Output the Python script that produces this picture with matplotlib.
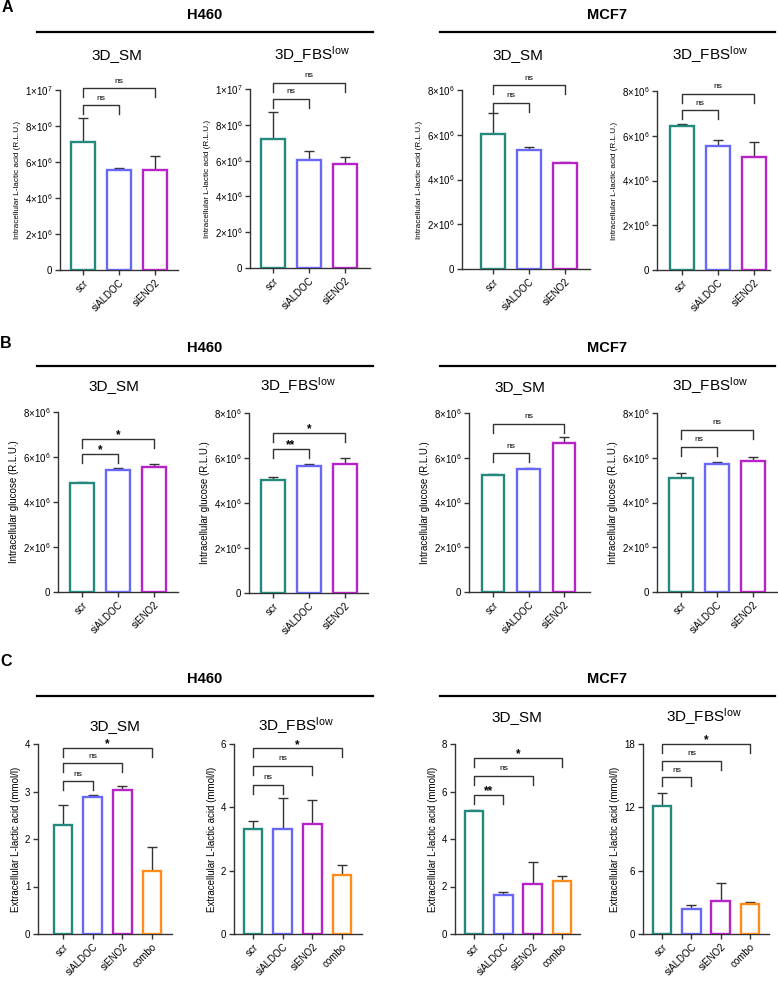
import matplotlib
matplotlib.use("Agg")
import matplotlib.pyplot as plt
from matplotlib.lines import Line2D
import matplotlib.transforms as mtransforms

plt.rcParams['font.family'] = ['Liberation Sans', 'DejaVu Sans']
plt.rcParams['mathtext.fontset'] = 'custom'
plt.rcParams['mathtext.rm'] = 'Liberation Sans'
plt.rcParams['mathtext.it'] = 'Liberation Sans:italic'
plt.rcParams['mathtext.bf'] = 'Liberation Sans:bold'

W, H = 778, 981

# ---------------- data ----------------
groups3 = ["scr", "siALDOC", "siENO2"]
groups4 = ["scr", "siALDOC", "siENO2", "combo"]
colors = ["#23897d", "#6868f8", "#b722c9", "#ff8c1a"]

# Panel A: intracellular L-lactic acid (R.L.U.)
A_h460_sm_mean = [7.1e6, 5.55e6, 5.55e6]
A_h460_sm_err = [1.35e6, 0.13e6, 0.77e6]
A_h460_fbs_mean = [7.21e6, 6.05e6, 5.83e6]
A_h460_fbs_err = [1.49e6, 0.47e6, 0.37e6]
A_mcf7_sm_mean = [6.05e6, 5.30e6, 4.73e6]
A_mcf7_sm_err = [0.91e6, 0.17e6, 0.04e6]
A_mcf7_fbs_mean = [6.44e6, 5.53e6, 5.06e6]
A_mcf7_fbs_err = [0.10e6, 0.27e6, 0.66e6]

# Panel B: intracellular glucose (R.L.U.)
B_h460_sm_mean = [4.83e6, 5.44e6, 5.54e6]
B_h460_sm_err = [0.04e6, 0.06e6, 0.13e6]
B_h460_fbs_mean = [5.02e6, 5.63e6, 5.72e6]
B_h460_fbs_err = [0.14e6, 0.10e6, 0.27e6]
B_mcf7_sm_mean = [5.22e6, 5.50e6, 6.66e6]
B_mcf7_sm_err = [0.06e6, 0.06e6, 0.27e6]
B_mcf7_fbs_mean = [5.10e6, 5.73e6, 5.85e6]
B_mcf7_fbs_err = [0.20e6, 0.09e6, 0.19e6]

# Panel C: extracellular L-lactic acid (mmol/l)
C_h460_sm_mean = [2.29, 2.89, 3.03, 1.33]
C_h460_sm_err = [0.43, 0.04, 0.09, 0.51]
C_h460_fbs_mean = [3.32, 3.33, 3.47, 1.87]
C_h460_fbs_err = [0.26, 0.95, 0.76, 0.31]
C_mcf7_sm_mean = [5.19, 1.63, 2.11, 2.25]
C_mcf7_sm_err = [0.02, 0.14, 0.94, 0.19]
C_mcf7_fbs_mean = [12.08, 2.37, 3.16, 2.85]
C_mcf7_fbs_err = [1.32, 0.35, 1.64, 0.22]

sig_A_h460_sm = ["ns", "ns"]
sig_A_h460_fbs = ["ns", "ns"]
sig_A_mcf7_sm = ["ns", "ns"]
sig_A_mcf7_fbs = ["ns", "ns"]
sig_B_h460_sm = ["*", "*"]
sig_B_h460_fbs = ["**", "*"]
sig_B_mcf7_sm = ["ns", "ns"]
sig_B_mcf7_fbs = ["ns", "ns"]
sig_C_h460_sm = ["ns", "ns", "*"]
sig_C_h460_fbs = ["ns", "ns", "*"]
sig_C_mcf7_sm = ["**", "ns", "*"]
sig_C_mcf7_fbs = ["ns", "ns", "*"]

ticks_1e7 = [0, 2e6, 4e6, 6e6, 8e6, 1e7]
ticklabels_1e7 = ["0", "2×10^6", "4×10^6", "6×10^6", "8×10^6", "1×10^7"]
ticks_8e6 = [0, 2e6, 4e6, 6e6, 8e6]
ticklabels_8e6 = ["0", "2×10^6", "4×10^6", "6×10^6", "8×10^6"]
ticks_C1 = [0, 1, 2, 3, 4]
ticks_C2 = [0, 2, 4, 6]
ticks_C3 = [0, 2, 4, 6, 8]
ticks_C4 = [0, 6, 12, 18]

title_SM = "3D_SM"
title_FBS = "3D_FBS$^{\\mathregular{low}}$"
ylab_A = "Intracellular L-lactic acid (R.L.U.)"
ylab_B = "Intracellular glucose (R.L.U.)"
ylab_C = "Extracellular L-lactic acid (mmol/l)"

# --------------- layout (pixels) ---------------
# left, right, top, bottom, first tick x, last tick x, title x, title y, bracket levels (axes fraction)
panels = [
    dict(L=60, R=178, T=90, B=270, t0=83, t1=155, tx=117, ty=55, lev=[0.914, 1.009], yfs=5.9,
         groups=groups3, mean=A_h460_sm_mean, err=A_h460_sm_err, sig=sig_A_h460_sm,
         yt=ticks_1e7, ytl=ticklabels_1e7, title=title_SM, ylab=ylab_A),
    dict(L=250, R=370, T=89, B=268, t0=273, t1=345, tx=312, ty=55, lev=[0.944, 1.034], yfs=5.9,
         groups=groups3, mean=A_h460_fbs_mean, err=A_h460_fbs_err, sig=sig_A_h460_fbs,
         yt=ticks_1e7, ytl=ticklabels_1e7, title=title_FBS, ylab=ylab_A),
    dict(L=462, R=590, T=90, B=269, t0=493, t1=565, tx=518, ty=55, lev=[0.929, 1.026], yfs=5.9,
         groups=groups3, mean=A_mcf7_sm_mean, err=A_mcf7_sm_err, sig=sig_A_mcf7_sm,
         yt=ticks_8e6, ytl=ticklabels_8e6, title=title_SM, ylab=ylab_A),
    dict(L=657, R=770, T=91, B=270, t0=682, t1=754, tx=710, ty=55, lev=[0.892, 0.985], yfs=5.9,
         groups=groups3, mean=A_mcf7_fbs_mean, err=A_mcf7_fbs_err, sig=sig_A_mcf7_fbs,
         yt=ticks_8e6, ytl=ticklabels_8e6, title=title_FBS, ylab=ylab_A),
    dict(L=58, R=178, T=412, B=592, t0=82, t1=154, tx=114, ty=386, lev=[0.767, 0.85], yfs=7,
         groups=groups3, mean=B_h460_sm_mean, err=B_h460_sm_err, sig=sig_B_h460_sm,
         yt=ticks_8e6, ytl=ticklabels_8e6, title=title_SM, ylab=ylab_B),
    dict(L=249, R=368, T=413, B=593, t0=273, t1=345, tx=298, ty=386, lev=[0.80, 0.889], yfs=7,
         groups=groups3, mean=B_h460_fbs_mean, err=B_h460_fbs_err, sig=sig_B_h460_fbs,
         yt=ticks_8e6, ytl=ticklabels_8e6, title=title_FBS, ylab=ylab_B),
    dict(L=469, R=590, T=413, B=592, t0=493, t1=564, tx=520, ty=387, lev=[0.774, 0.94], yfs=7,
         groups=groups3, mean=B_mcf7_sm_mean, err=B_mcf7_sm_err, sig=sig_B_mcf7_sm,
         yt=ticks_8e6, ytl=ticklabels_8e6, title=title_SM, ylab=ylab_B),
    dict(L=657, R=777, T=413, B=592, t0=681, t1=753, tx=710, ty=386, lev=[0.81, 0.907], yfs=7,
         groups=groups3, mean=B_mcf7_fbs_mean, err=B_mcf7_fbs_err, sig=sig_B_mcf7_fbs,
         yt=ticks_8e6, ytl=ticklabels_8e6, title=title_FBS, ylab=ylab_B),
    dict(L=38, R=172, T=744, B=934, t0=63, t1=152, tx=115, ty=726, lev=[0.804, 0.898, 0.98], yfs=7,
         groups=groups4, mean=C_h460_sm_mean, err=C_h460_sm_err, sig=sig_C_h460_sm,
         yt=ticks_C1, ytl=[str(v) for v in ticks_C1], title=title_SM, ylab=ylab_C),
    dict(L=234, R=362, T=744, B=934, t0=253, t1=342, tx=296, ty=726, lev=[0.786, 0.884, 0.977], yfs=7,
         groups=groups4, mean=C_h460_fbs_mean, err=C_h460_fbs_err, sig=sig_C_h460_fbs,
         yt=ticks_C2, ytl=[str(v) for v in ticks_C2], title=title_FBS, ylab=ylab_C),
    dict(L=455, R=580, T=744, B=934, t0=474, t1=562, tx=517, ty=717, lev=[0.732, 0.832, 0.928], yfs=7,
         groups=groups4, mean=C_mcf7_sm_mean, err=C_mcf7_sm_err, sig=sig_C_mcf7_sm,
         yt=ticks_C3, ytl=[str(v) for v in ticks_C3], title=title_SM, ylab=ylab_C),
    dict(L=643, R=769, T=744, B=934, t0=662, t1=750, tx=704, ty=717, lev=[0.824, 0.912, 1.0], yfs=7,
         groups=groups4, mean=C_mcf7_fbs_mean, err=C_mcf7_fbs_err, sig=sig_C_mcf7_fbs,
         yt=ticks_C4, ytl=[str(v) for v in ticks_C4], title=title_FBS, ylab=ylab_C),
]

AX_COLOR = "#333333"


def fmt_tick(s):
    if "^" in s:
        base, exp = s.split("^")
        return "$\\mathregular{" + base + "^{" + exp + "}}$"
    return s


fig = plt.figure(figsize=(W / 100, H / 100), dpi=100)

for p in panels:
    n = len(p["groups"])
    ax = fig.add_axes([p["L"] / W, 1 - p["B"] / H, (p["R"] - p["L"]) / W, (p["B"] - p["T"]) / H])
    s = (p["t1"] - p["t0"]) / (n - 1)
    ax.set_xlim((p["L"] - p["t0"]) / s, (p["R"] - p["t0"]) / s)
    ax.set_ylim(p["yt"][0], p["yt"][-1])
    x = list(range(n))
    ax.bar(x, p["mean"], width=0.64, color="white", edgecolor=colors[:n], linewidth=1.7, zorder=3)
    ax.errorbar(x, p["mean"], yerr=[[0] * n, p["err"]], fmt="none", ecolor=AX_COLOR,
                elinewidth=1.0, capsize=3.5, capthick=1.0, zorder=2)
    ax.set_xticks(x)
    ax.set_xticklabels(p["groups"], rotation=45, ha="right", rotation_mode="anchor", fontsize=7)
    ax.set_yticks(p["yt"])
    ax.set_yticklabels([fmt_tick(t) for t in p["ytl"]], fontsize=7)
    for side in ["top", "right"]:
        ax.spines[side].set_visible(False)
    for side in ["left", "bottom"]:
        ax.spines[side].set_color(AX_COLOR)
        ax.spines[side].set_linewidth(1.0)
    ax.tick_params(direction="out", length=3.5, width=1.0, color=AX_COLOR, pad=2)
    ax.set_ylabel(p["ylab"], fontsize=p["yfs"], labelpad=3)
    ax.patch.set_alpha(0)

    # brackets
    trans = mtransforms.blended_transform_factory(ax.transData, ax.transAxes)
    leg = 9 / (p["B"] - p["T"])
    for j, (lab, lv) in enumerate(zip(p["sig"], p["lev"])):
        xa, xb = 0, j + 1
        ax.plot([xa, xa, xb, xb], [lv - leg, lv, lv, lv - leg], color=AX_COLOR, lw=1.0,
                transform=trans, clip_on=False, zorder=4)
        if lab == "ns":
            ax.annotate(lab, xy=((xa + xb) / 2, lv), xycoords=trans, xytext=(0, 4.0),
                        textcoords="offset points", ha="center", va="baseline", fontsize=6)
        else:
            ax.annotate(lab, xy=((xa + xb) / 2, lv), xycoords=trans, xytext=(0, 0.5),
                        textcoords="offset points", ha="center", va="baseline", fontsize=8.5,
                        fontweight="bold")

    fig.text(p["tx"] / W, 1 - p["ty"] / H, p["title"], ha="center", va="center", fontsize=11)

# ---------------- headers ----------------
headers = [
    ("A", 7, 8, 15, 32),
    ("B", 6, 343, 348, 366),
    ("C", 6, 662, 679, 696),
]
for letter, lx, ly, hy, liney in headers:
    fig.text(lx / W, 1 - ly / H, letter, ha="center", va="center", fontsize=11.5, fontweight="bold")
    fig.text(205 / W, 1 - hy / H, "H460", ha="center", va="center", fontsize=10.5, fontweight="bold")
    fig.text(607 / W, 1 - hy / H, "MCF7", ha="center", va="center", fontsize=10.5, fontweight="bold")
    fig.add_artist(Line2D([37 / W, 373 / W], [1 - liney / H] * 2, color="black", lw=1.6))
    fig.add_artist(Line2D([440 / W, 775 / W], [1 - liney / H] * 2, color="black", lw=1.6))

fig.savefig("out.png", dpi=100, facecolor="white")
